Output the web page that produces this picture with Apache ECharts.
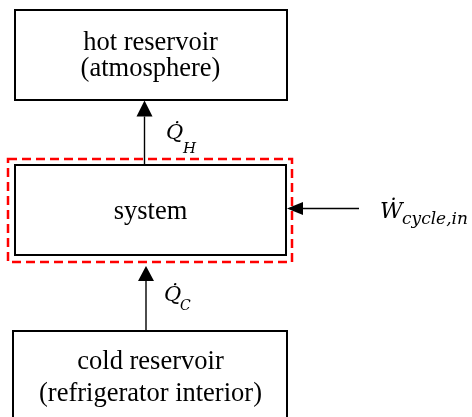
<!DOCTYPE html>
<html>
<head>
<meta charset="utf-8">
<script src="https://cdn.jsdelivr.net/npm/echarts@6/dist/echarts.min.js"></script>
<style>html,body{margin:0;padding:0;background:#fff;}#c{width:472px;height:417px;}</style>
</head>
<body>
<div id="c"></div>
<script>
// ---- content ----
var boxNames = ["hot", "system", "cold"];
var hotLines = ["hot reservoir", "(atmosphere)"];
var systemLines = ["system"];
var coldLines = ["cold reservoir", "(refrigerator interior)"];
var flowSymbols = ["Q\u0307", "Q\u0307", "\u1E86"];
var flowSubscripts = ["H", "C", "cycle,in"];

// ---- layout ----
var SERIF = '"Liberation Serif", "Times New Roman", serif';
var MATH = '"DejaVu Serif", serif';
var boxes = [
  {x: 15, y: 10, w: 272, h: 90, lines: hotLines, ty: [43, 69]},
  {x: 15, y: 165, w: 271, h: 90, lines: systemLines, ty: [212]},
  {x: 13, y: 331, w: 274, h: 110, lines: coldLines, ty: [362, 394]}
];
var els = [];
boxes.forEach(function (b) {
  els.push({type: 'rect', shape: {x: b.x, y: b.y, width: b.w, height: b.h},
    style: {fill: '#fff', stroke: '#000', lineWidth: 2}});
  b.lines.forEach(function (t, i) {
    els.push({type: 'text', x: 150.5, y: b.ty[i],
      style: {text: t, font: '26.5px ' + SERIF, fill: '#000', align: 'center', verticalAlign: 'middle'}});
  });
});
// red dashed system boundary
els.push({type: 'rect', shape: {x: 8, y: 159, width: 284, height: 103},
  style: {fill: null, stroke: '#ff0000', lineWidth: 2.5, lineDash: [9, 5]}});
// arrows
function arrow(x1, y1, x2, y2, head, half) {
  var dx = x2 - x1, dy = y2 - y1, L = Math.sqrt(dx * dx + dy * dy);
  var ux = dx / L, uy = dy / L;
  var bx = x2 - ux * head, by = y2 - uy * head;
  els.push({type: 'line', shape: {x1: x1, y1: y1, x2: bx, y2: by}, style: {stroke: '#000', lineWidth: 1.4}});
  els.push({type: 'polygon', shape: {points: [[x2, y2], [bx - uy * half, by + ux * half], [bx + uy * half, by - ux * half]]},
    style: {fill: '#000'}});
}
arrow(144.5, 165, 144.5, 100.5, 16, 8);
arrow(146, 331, 146, 266, 15, 8);
arrow(359, 208.5, 287, 208.5, 16, 6.5);
// flow labels
var labels = [
  {x: 166, y: 134, sx: 183, sy: 149, ms: 21, ss: 15},
  {x: 164, y: 296, sx: 180, sy: 306, ms: 21, ss: 14},
  {x: 380, y: 212, sx: 402, sy: 220, ms: 22, ss: 17}
];
labels.forEach(function (l, i) {
  els.push({type: 'text', x: l.x, y: l.y,
    style: {text: flowSymbols[i], font: 'italic ' + l.ms + 'px ' + MATH, fill: '#000', align: 'left', verticalAlign: 'middle'}});
  els.push({type: 'text', x: l.sx, y: l.sy,
    style: {text: flowSubscripts[i], font: 'italic ' + l.ss + 'px ' + MATH, fill: '#000', align: 'left', verticalAlign: 'middle'}});
});

var chart = echarts.init(document.getElementById('c'), null, {renderer: 'canvas'});
chart.setOption({
  backgroundColor: '#fff',
  animation: false,
  graphic: {elements: els}
});
</script>
</body>
</html>
